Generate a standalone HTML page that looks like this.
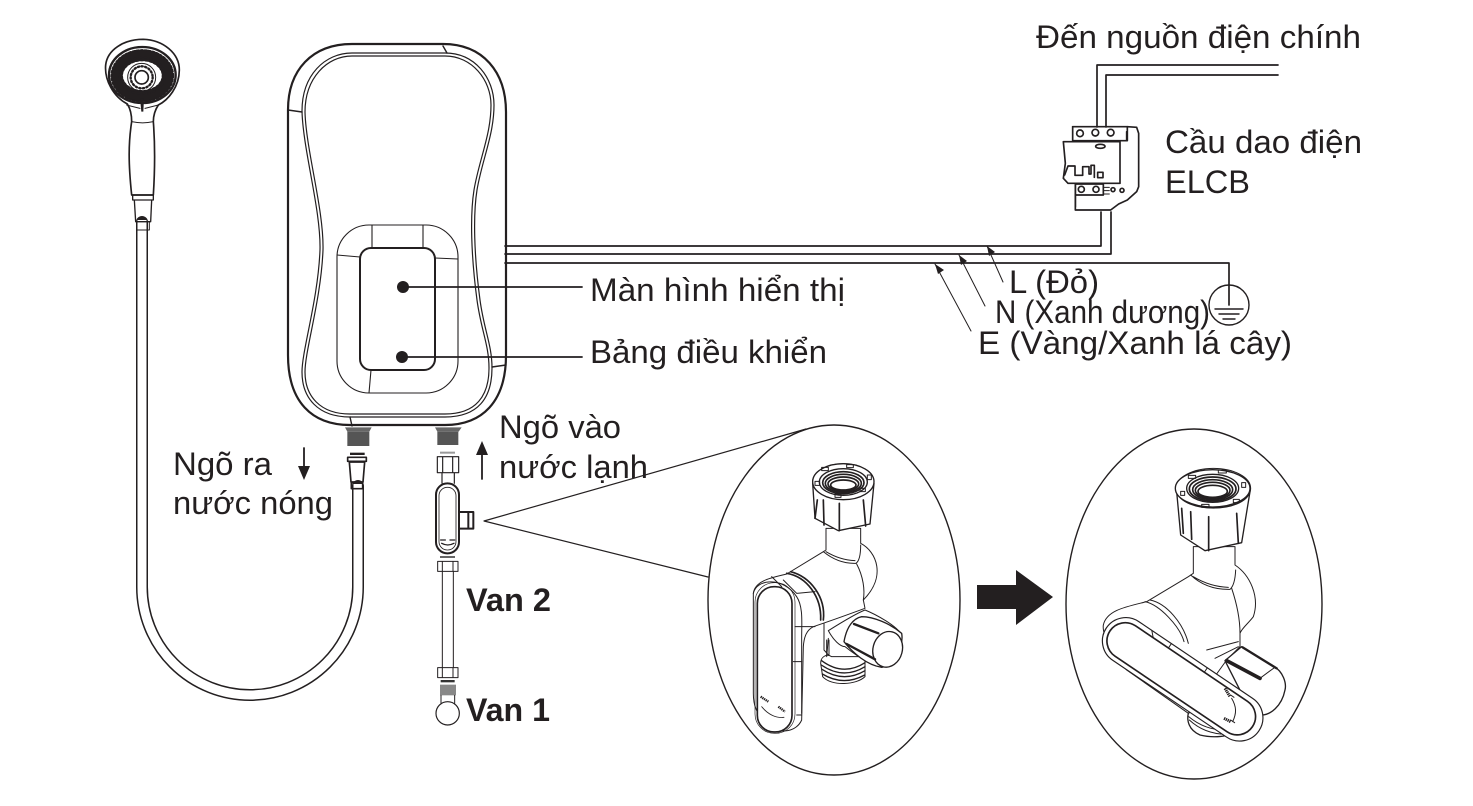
<!DOCTYPE html>
<html><head><meta charset="utf-8"><style>
html,body{margin:0;padding:0;background:#fff;width:1473px;height:806px;overflow:hidden}
svg{display:block}
text{font-family:"Liberation Sans",sans-serif;fill:#231f20;font-size:32px;stroke:none}
.l{fill:none;stroke:#231f20;stroke-linejoin:round;stroke-linecap:round}
</style></head><body>
<svg width="1473" height="806" viewBox="0 0 1473 806" xmlns="http://www.w3.org/2000/svg">
<rect width="1473" height="806" fill="#fff"/>

<!-- hose -->
<path class="l" d="M142 222V587A108 108 0 0 0 358 587V486" stroke-width="12" stroke-linecap="butt"/>
<path d="M142 220V587A108 108 0 0 0 358 587V484" fill="none" stroke="#fff" stroke-width="9"/>

<!-- shower head -->
<g transform="translate(90 30) scale(.33333)">
<path class="l" stroke-width="5" fill="#fff" d="M112 222C70 200 43 150 47 105C52 60 100 28 160 28C220 30 268 70 268 120C268 170 235 210 205 225C195 240 190 258 190 275C195 340 196 400 190 495H125C115 400 115 340 125 275C125 255 122 238 112 222Z"/>
<path class="l" stroke-width="3" d="M125 275Q158 282 190 275M110 225L150 235M205 225L165 235"/>
<path class="l" stroke-width="4" fill="#fff" d="M128 495H190V510H128ZM133 510H185L182 575H137Z"/>
<path class="l" stroke-width="3" d="M140 575H178V600H140Z" fill="#fff"/>
<ellipse cx="157" cy="135" rx="100" ry="84" class="l" stroke-width="7"/>
<ellipse cx="157" cy="137" rx="76" ry="61" class="l" stroke-width="36" stroke-dasharray="3 13" stroke-linecap="butt"/>
<ellipse cx="157" cy="137" rx="93" ry="77" class="l" stroke-width="5" stroke-dasharray="6 6" stroke-linecap="butt"/>
<ellipse cx="157" cy="137" rx="68" ry="55" class="l" stroke-width="6" stroke-dasharray="5 11" stroke-linecap="butt" stroke-dashoffset="6"/>
<circle cx="155" cy="142" r="42" class="l" stroke-width="3" fill="#fff"/>
<circle cx="155" cy="142" r="33" class="l" stroke-width="7" stroke-dasharray="4 7" stroke-linecap="butt"/>
<circle cx="155" cy="142" r="20" class="l" stroke-width="5"/>
<path d="M150 205H162L160 245H154Z" fill="#231f20"/>
</g>

<!-- heater -->
<path class="l" stroke-width="2.2" d="M288 110C288 70 312 44 352 44H443C483 44 506 72 506 112V355C506 402 482 425 445 425H350C312 425 288 402 288 355Z"/>
<path class="l" stroke-width="1.2" d="M302 111C302 75 325 53 352 53H445C475 53 494 78 494 105C494 135 482 160 477 190C473 215 474 255 480 300C484 330 492 345 492 368C492 398 478 417 445 417H350C318 417 302 398 302 372C302 350 318 300 320 250C321 210 303 150 302 111Z"/>
<path class="l" stroke-width="1.2" d="M305 112C305 78 327 56 352 56H445C472 56 491 80 491 105C491 135 479 160 474 190C470 215 471 255 477 300C481 330 489 345 489 368C489 396 476 414 445 414H350C320 414 305 396 305 372C305 350 321 300 323 250C324 210 306 150 305 112Z"/>
<path class="l" stroke-width="1.4" d="M288 110L302 112M443 46L447 53M492 367L506 365M350 417L352 426"/>
<rect x="337" y="225" width="121" height="168" rx="32" class="l" stroke-width="1.1"/>
<path class="l" stroke-width="1.1" d="M372 225V247M423 225V247M337 255L360 257M435 258L458 259M371 370L369 393"/>
<rect x="360" y="248" width="75" height="122" rx="11" class="l" stroke-width="2" fill="#fff"/>
<circle cx="403" cy="287" r="6" fill="#231f20"/><circle cx="402" cy="357" r="6" fill="#231f20"/>
<path class="l" stroke-width="1.8" d="M403 287H582M402 357H582"/>

<!-- wires -->
<path class="l" stroke-width="1.7" d="M505 246H1101V212M505 254H1111V212M505 263H1229V305"/>
<path class="l" stroke-width="1.7" d="M1097 127V65H1278M1106 127V75H1278"/>
<circle cx="1229" cy="305" r="20" class="l" stroke-width="1.4"/>
<path class="l" stroke-width="1.4" d="M1215 309H1243M1219 314H1239M1223 319H1235"/>

<!-- breaker -->
<g transform="translate(1040 50) scale(.33333)" class="l" stroke-width="5">
<path d="M98 230H262L290 232L296 250V410L290 425L262 450L236 462L212 480H106V400"/>
<path d="M98 230V272H262V230M260 272V245"/>
<path d="M70 275H240V400H84L70 385L76 340Z" fill="#fff"/>
<path d="M106 402H190V435H106Z"/>
<circle cx="120" cy="250" r="10"/><circle cx="166" cy="248" r="10"/><circle cx="212" cy="248" r="10"/>
<circle cx="124" cy="418" r="9"/><circle cx="168" cy="418" r="9"/><circle cx="219" cy="419" r="6"/><circle cx="246" cy="421" r="6"/>
<ellipse cx="181" cy="289" rx="14" ry="6"/>
<path d="M74 375L84 348H105V376H128V350H147V372H153V346H163V382"/>
<rect x="173" y="367" width="16" height="16"/>
<path d="M190 412H208M190 422H208M190 432H208" stroke-width="3"/>
<path d="M106 435V470"/>
</g>

<!-- fittings -->
<g transform="translate(330 400) scale(.33333)">
<path d="M45 82H125L118 95H52Z" fill="#666"/>
<rect x="52" y="95" width="66" height="43" fill="#555"/>
<rect x="60" y="158" width="44" height="7" fill="#231f20"/>
<path class="l" stroke-width="5" d="M53 172H109V184H53ZM58 186H104L99 246H63ZM64 248H98V266H64Z" fill="#fff"/>
<path d="M315 82H395L386 95H322Z" fill="#666"/>
<rect x="322" y="95" width="63" height="40" fill="#555"/>
<rect x="330" y="155" width="45" height="6" fill="#999"/>
<path class="l" stroke-width="3.5" d="M322 170H386V218H322ZM338 170V218M368 170V218M336 218V250M373 218V250" stroke="#555"/>
<rect x="318" y="250" width="69" height="210" rx="34" class="l" stroke-width="6" fill="#fff"/>
<rect x="327" y="262" width="51" height="188" rx="25" class="l" stroke-width="2.5"/>
<path class="l" stroke-width="6" d="M388 336H430V386H388M415 336V386"/>
<path class="l" stroke-width="4" d="M332 420H346M360 420H374M335 430Q353 440 372 430"/>
<rect x="330" y="468" width="45" height="6" fill="#666"/>
<path class="l" stroke-width="3" d="M323 484H384V514H323ZM337 484V514M369 484V514M337 514V803M370 514V803" stroke="#444"/>
<path class="l" stroke-width="3" d="M323 803H384V833H323ZM337 803V833M369 803V833" stroke="#444"/>
<rect x="332" y="840" width="42" height="7" fill="#333"/>
<rect x="330" y="854" width="48" height="32" fill="#888"/>
<path class="l" stroke-width="3" d="M333 886V912M374 886V912"/>
<circle cx="353" cy="940" r="35" class="l" stroke-width="3.5" fill="#fff"/>
</g>
<path class="l" stroke-width="1.8" d="M482 479V446M304 448V475"/>
<path d="M482 441L476 455H488Z" fill="#231f20"/><path d="M304 480L298 466H310Z" fill="#231f20"/>
<path class="l" stroke-width="1.2" d="M806 429L484 521L708 577"/>

<!-- leader arrows -->
<path class="l" stroke-width="1" d="M935 264L971 331M959 255L985 306M987 246L1003 282"/>
<path d="M935 264L944 270L938 274ZM959 255L967 261L961 265ZM987 246L995 252L989 256Z" fill="#231f20"/>

<!-- ellipses -->
<ellipse cx="834" cy="600" rx="126" ry="175" class="l" stroke-width="1.4" fill="#fff"/>
<ellipse cx="1194" cy="604" rx="128" ry="175" class="l" stroke-width="1.4" fill="#fff"/>
<path d="M977 585H1016V570L1053 597L1016 625V609H977Z" fill="#231f20"/>

<!-- valve 1 -->
<g transform="translate(700 420) scale(.33333)" class="l" stroke-width="3">
<path fill="#fff" d="M482 370C530 395 560 470 490 540L495 565C400 600 370 610 340 620C320 630 312 650 310 680L305 900C290 935 240 945 205 915C165 880 160 850 160 820V520C165 480 220 472 260 462L370 395L378 390V325H482Z"/>
<path d="M370 395Q415 432 468 430Q482 420 482 375M378 395Q420 420 465 422"/>
<path d="M470 432C490 470 495 510 490 540"/>
<path d="M260 460C320 470 365 530 362 600M272 455C330 470 378 530 370 600" stroke-width="5"/>
<path d="M160 520C170 475 250 470 290 530C310 560 305 610 305 650V880"/>
<rect x="172" y="500" width="104" height="436" rx="50" fill="#fff" stroke-width="5"/>
<rect x="165" y="488" width="120" height="452" rx="58" stroke-width="2"/>
<path d="M285 620H345M280 725H305M290 885H305M250 480L290 520L345 515M215 470L245 500"/>
<path d="M185 860C205 885 230 895 252 892" stroke-width="2.5"/>
<path d="M182 830L205 845M235 860L255 875" stroke-width="7" stroke-dasharray="4 2" stroke-linecap="butt"/>
<path d="M372 610V690L390 710M380 660V710M387 660V710"/>
<path fill="#fff" d="M362 730C362 710 380 700 395 710H495V770C470 795 395 800 368 770Z"/>
<path d="M364 735Q430 780 495 740M366 748Q430 790 495 752M367 762Q430 800 494 765M365 722Q430 770 495 728" stroke-width="4"/>
<path fill="#fff" d="M385 632C420 610 470 580 495 570C520 580 600 620 606 650L560 740C520 745 460 700 435 680C420 680 400 660 385 632Z"/>
<path fill="#fff" d="M432 665C440 620 460 595 485 590C520 590 570 610 605 640C612 680 580 735 545 742C500 735 460 700 432 665Z" stroke-width="4"/>
<ellipse cx="563" cy="688" rx="44" ry="54" transform="rotate(15 563 688)" fill="#fff" stroke-width="4"/>
<path d="M462 612L535 640M440 672L525 718" stroke-width="7"/>
<path d="M380 710L385 655"/>
<ellipse cx="430" cy="185" rx="92" ry="54" fill="#fff"/>
<path fill="#fff" d="M338 190L345 295L415 332L510 312L522 190C510 250 350 250 338 190Z" stroke-width="4"/>
<path d="M418 250V332M490 240L497 318M370 240L372 315M345 295L352 240" stroke-width="5"/>
<ellipse cx="430" cy="185" rx="92" ry="54" fill="#fff" stroke-width="4"/>
<ellipse cx="430" cy="186" rx="72" ry="40" stroke-width="4"/>
<g stroke-width="5"><ellipse cx="430" cy="188" rx="62" ry="33"/><ellipse cx="430" cy="190" rx="54" ry="27"/><ellipse cx="430" cy="192" rx="46" ry="21"/><ellipse cx="430" cy="195" rx="38" ry="15"/></g>
<rect x="345" y="184" width="14" height="12"/><rect x="365" y="142" width="20" height="10"/><rect x="440" y="134" width="20" height="9"/><rect x="502" y="165" width="12" height="14"/><rect x="405" y="222" width="18" height="10"/><rect x="480" y="205" width="16" height="10"/>
</g>

<!-- valve 2 -->
<g transform="translate(1060 420) scale(.33333)" class="l" stroke-width="3">
<path fill="#fff" d="M525 435C570 465 600 530 580 590C565 610 545 625 540 640V680L500 720L385 880L200 750C170 720 125 650 130 615C140 570 200 560 260 545L385 470L400 460V380H525Z"/>
<path d="M392 465Q440 510 510 508Q525 495 527 450M400 470Q450 500 505 502"/>
<path d="M515 505C530 550 540 600 540 640"/>
<path d="M270 540C320 550 370 610 385 670M255 545C300 555 360 620 372 665"/>
<path d="M440 690L535 665M465 715L535 680"/>
<path fill="#fff" d="M495 722L545 680L640 738C670 755 680 790 675 810C665 860 630 885 605 885L560 850Z" stroke-width="4"/>
<path d="M500 722L600 775" stroke-width="11"/>
<path d="M548 682L650 745" stroke-width="7"/>
<path d="M600 775Q640 745 645 742"/>
<path fill="#fff" d="M385 880C380 900 385 930 420 945C460 955 510 950 525 935L400 870Z" stroke-width="4"/>
<path d="M388 900Q440 948 515 942M386 890Q440 935 510 930"/>
<g transform="rotate(34 368 778)">
<rect x="92" y="708" width="552" height="140" rx="70" fill="#fff" stroke-width="3.5"/>
<rect x="106" y="724" width="515" height="110" rx="55" fill="#fff" stroke-width="5"/>
<path d="M280 708V724M210 709L225 724M410 708V724"/>
</g>
<path d="M495 805L510 830M492 895L512 905" stroke-width="9" stroke-dasharray="4 2" stroke-linecap="butt"/>
<path d="M515 835C530 860 530 880 518 905M512 825L522 832M512 900L524 908" stroke-width="3"/>
<ellipse cx="460" cy="205" rx="112" ry="60" fill="#fff"/>
<path fill="#fff" d="M350 215L362 345L435 392L545 368L570 215C550 280 370 280 350 215Z" stroke-width="4"/>
<path d="M446 290V392M530 280L535 370M392 275L395 358M365 265L370 340" stroke-width="5"/>
<ellipse cx="458" cy="205" rx="112" ry="56" fill="#fff" stroke-width="4"/>
<ellipse cx="458" cy="205" rx="78" ry="42" stroke-width="4"/>
<g stroke-width="5"><ellipse cx="458" cy="207" rx="70" ry="36"/><ellipse cx="458" cy="209" rx="60" ry="30"/><ellipse cx="458" cy="211" rx="52" ry="24"/><ellipse cx="458" cy="214" rx="44" ry="18"/></g>
<rect x="362" y="214" width="12" height="12"/><rect x="385" y="166" width="22" height="9"/><rect x="475" y="150" width="24" height="9"/><rect x="545" y="188" width="12" height="14"/><rect x="425" y="253" width="22" height="9"/><rect x="520" y="238" width="18" height="10"/>
</g>

<!-- text -->
<text x="1036" y="48" textLength="325" lengthAdjust="spacingAndGlyphs">Đến nguồn điện chính</text>
<text x="1165" y="153" textLength="197" lengthAdjust="spacingAndGlyphs">Cầu dao điện</text>
<text x="1165" y="193" textLength="85" lengthAdjust="spacingAndGlyphs">ELCB</text>
<text x="1009" y="293" textLength="90" lengthAdjust="spacingAndGlyphs">L (Đỏ)</text>
<text x="995" y="323" textLength="215" lengthAdjust="spacingAndGlyphs">N (Xanh dương)</text>
<text x="978" y="354" textLength="314" lengthAdjust="spacingAndGlyphs">E (Vàng/Xanh lá cây)</text>
<text x="590" y="301" textLength="255" lengthAdjust="spacingAndGlyphs">Màn hình hiển thị</text>
<text x="590" y="363" textLength="237" lengthAdjust="spacingAndGlyphs">Bảng điều khiển</text>
<text x="173" y="475" textLength="99" lengthAdjust="spacingAndGlyphs">Ngõ ra</text>
<text x="173" y="514" textLength="160" lengthAdjust="spacingAndGlyphs">nước nóng</text>
<text x="499" y="438" textLength="122" lengthAdjust="spacingAndGlyphs">Ngõ vào</text>
<text x="499" y="478" textLength="149" lengthAdjust="spacingAndGlyphs">nước lạnh</text>
<text x="466" y="611" font-weight="bold" textLength="85" lengthAdjust="spacingAndGlyphs">Van 2</text>
<text x="466" y="721" font-weight="bold" textLength="84" lengthAdjust="spacingAndGlyphs">Van 1</text>
</svg>
</body></html>
